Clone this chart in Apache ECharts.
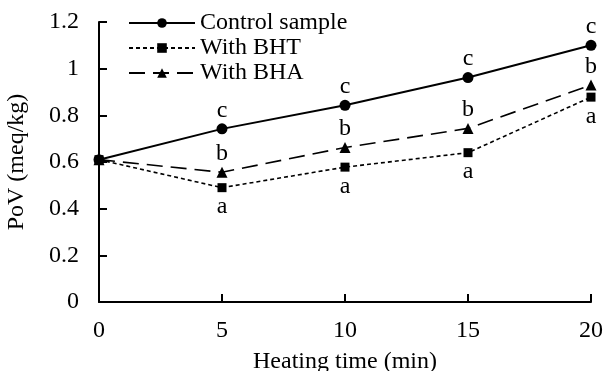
<!DOCTYPE html>
<html>
<head>
<meta charset="utf-8">
<script src="https://cdn.jsdelivr.net/npm/echarts@6/dist/echarts.min.js"></script>
<style>
  html, body { margin: 0; padding: 0; background: #fff; }
  #chart { width: 605px; height: 371px; }
</style>
</head>
<body>
<div id="chart"></div>
<script>
const heatingTimes = [0, 5, 10, 15, 20]
const controlValues = [0.61, 0.742, 0.843, 0.962, 1.10]
const bhtValues = [0.61, 0.49, 0.578, 0.64, 0.878]
const bhaValues = [0.61, 0.556, 0.662, 0.744, 0.93]
const controlLetters = ['', 'c', 'c', 'c', 'c']
const bhtLetters = ['', 'a', 'a', 'a', 'a']
const bhaLetters = ['', 'b', 'b', 'b', 'b']

const font = 'Liberation Serif'
const pairs = (values) => heatingTimes.map((t, i) => [t, values[i]])

const letterLabel = (letters, position, distance) => ({
  show: true,
  position,
  distance,
  color: '#000',
  fontFamily: font,
  fontSize: 24,
  formatter: (p) => letters[p.dataIndex],
})

const chart = echarts.init(document.getElementById('chart'))
chart.setOption({
  animation: false,
  textStyle: { fontFamily: font, color: '#000' },
  grid: { left: 99, right: 14, top: 22, bottom: 69, outerBoundsMode: 'none', containLabel: false },
  legend: {
    orient: 'vertical',
    left: 123,
    top: 6,
    itemWidth: 66,
    itemHeight: 12,
    itemGap: 1,
    textStyle: { fontFamily: font, fontSize: 24, lineHeight: 22, color: '#000' },
    data: ['Control sample', 'With BHT', 'With BHA'],
  },
  xAxis: {
    type: 'value',
    min: 0,
    max: 20,
    interval: 5,
    name: 'Heating time (min)',
    nameLocation: 'middle',
    nameGap: 48,
    nameTextStyle: { fontFamily: font, fontSize: 24, color: '#000' },
    axisLine: { lineStyle: { color: '#000', width: 2 } },
    axisTick: { inside: true, length: 8, lineStyle: { color: '#000', width: 2 } },
    axisLabel: { fontFamily: font, fontSize: 24, color: '#000', margin: 17 },
    splitLine: { show: false },
  },
  yAxis: {
    type: 'value',
    min: 0,
    max: 1.2,
    interval: 0.2,
    name: 'PoV (meq/kg)',
    nameLocation: 'middle',
    nameGap: 70,
    nameTextStyle: { fontFamily: font, fontSize: 24, color: '#000' },
    axisLine: { show: true, lineStyle: { color: '#000', width: 2 } },
    axisTick: { show: true, inside: true, length: 8, lineStyle: { color: '#000', width: 2 } },
    axisLabel: { fontFamily: font, fontSize: 24, color: '#000', margin: 20, formatter: (v) => String(Math.round(v * 10) / 10) },
    splitLine: { show: false },
  },
  series: [
    {
      name: 'Control sample',
      type: 'line',
      data: pairs(controlValues),
      symbol: 'circle',
      symbolSize: 11,
      lineStyle: { color: '#000', width: 2 },
      itemStyle: { color: '#000' },
      label: letterLabel(controlLetters, 'top', 1),
      z: 3,
    },
    {
      name: 'With BHT',
      type: 'line',
      data: pairs(bhtValues),
      symbol: 'rect',
      symbolSize: 9,
      lineStyle: { color: '#000', width: 1.6, type: [4, 3] },
      itemStyle: { color: '#000' },
      label: letterLabel(bhtLetters, 'bottom', 3),
      z: 2,
    },
    {
      name: 'With BHA',
      type: 'line',
      data: pairs(bhaValues),
      symbol: 'triangle',
      symbolSize: 11,
      lineStyle: { color: '#000', width: 1.6, type: [16, 8] },
      itemStyle: { color: '#000' },
      label: letterLabel(bhaLetters, 'top', 1),
      z: 2,
    },
  ],
})
</script>
</body>
</html>
